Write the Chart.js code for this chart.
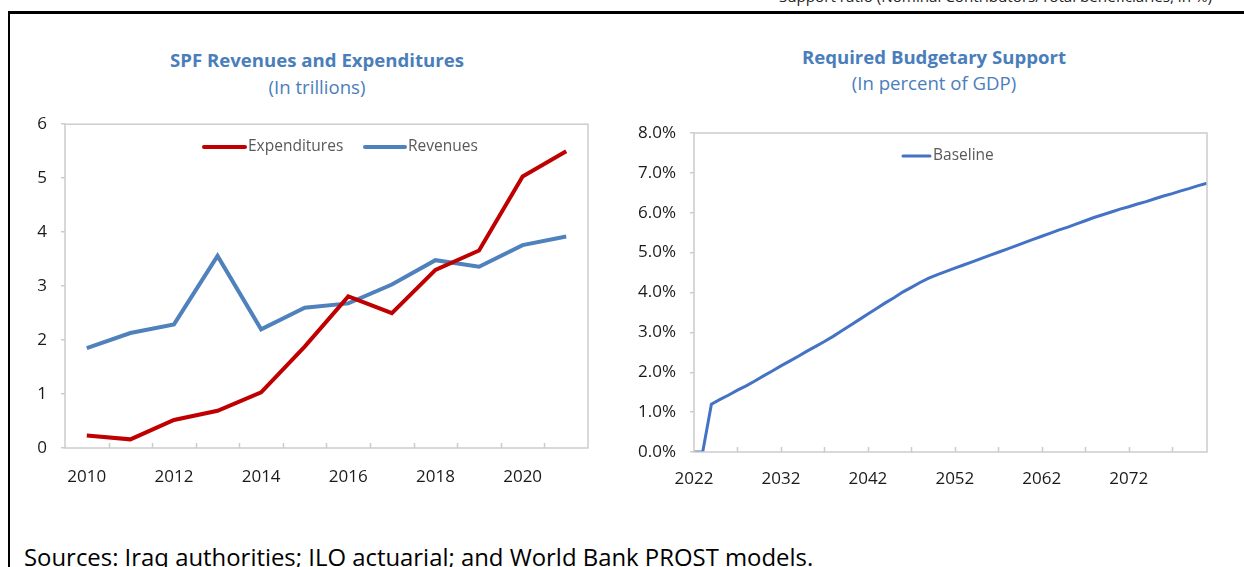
<!DOCTYPE html>
<html><head><meta charset="utf-8">
<script src="https://cdn.jsdelivr.net/npm/chart.js@4.4.1/dist/chart.umd.min.js"></script>
<style>
html,body{margin:0;padding:0;background:#fff;overflow:hidden;width:1244px;height:567px;position:relative;font-family:"Open Sans",sans-serif;}
#frame{position:absolute;left:8px;top:11px;width:1400px;height:800px;border-top:3px solid #000;border-left:2px solid #000;}
.t{position:absolute;white-space:nowrap;}
.title{color:#4A7EBB;font-weight:bold;font-size:18.6px;text-align:center;}
.sub{color:#4A7EBB;font-size:18.6px;text-align:center;}
canvas{position:absolute;}
</style></head><body>
<div id="frame"></div>
<div class="t" style="right:32px;top:-14px;font-size:15.2px;color:#222;">Support ratio (Nominal Contributors/Total beneficiaries, in %)</div>
<div class="t title" style="left:117px;width:400px;top:47px;">SPF Revenues and Expenditures</div>
<div class="t sub" style="left:117px;width:400px;top:74px;">(In trillions)</div>
<div class="t title" style="left:734px;width:400px;top:44px;">Required Budgetary Support</div>
<div class="t sub" style="left:734px;width:400px;top:70px;">(In percent of GDP)</div>
<div class="t" style="left:24px;top:540px;font-size:23.9px;color:#000;">Sources: Iraq authorities; ILO actuarial; and World Bank PROST models.</div>
<div style="position:absolute;left:0;top:100px;width:620px;height:400px;"><canvas id="c1"></canvas></div>
<div style="position:absolute;left:620px;top:100px;width:624px;height:400px;"><canvas id="c2"></canvas></div>
<script>
// ---- Data ----
const spfYears = ["2010","2011","2012","2013","2014","2015","2016","2017","2018","2019","2020","2021"];
const expenditures = [0.23,0.16,0.52,0.69,1.03,1.88,2.81,2.50,3.30,3.66,5.03,5.50];
const revenues = [1.85,2.13,2.29,3.56,2.20,2.60,2.68,3.03,3.48,3.36,3.76,3.92];
const spfYTicks = [0,1,2,3,4,5,6];

const supportYears = ["2022","2023","2024","2025","2026","2027","2028","2029","2030","2031",
 "2032","2033","2034","2035","2036","2037","2038","2039","2040","2041",
 "2042","2043","2044","2045","2046","2047","2048","2049","2050","2051",
 "2052","2053","2054","2055","2056","2057","2058","2059","2060","2061",
 "2062","2063","2064","2065","2066","2067","2068","2069","2070","2071",
 "2072","2073","2074","2075","2076","2077","2078","2079","2080","2081"];
const baseline = [0,0,1.20,1.32,1.43,1.55,1.66,1.78,1.91,2.03,
 2.16,2.28,2.40,2.53,2.65,2.77,2.90,3.04,3.18,3.32,
 3.46,3.60,3.74,3.87,4.01,4.13,4.25,4.36,4.45,4.53,
 4.61,4.69,4.77,4.85,4.93,5.01,5.09,5.17,5.25,5.33,
 5.41,5.49,5.57,5.64,5.72,5.80,5.88,5.95,6.02,6.09,
 6.15,6.22,6.28,6.35,6.42,6.48,6.55,6.61,6.68,6.74];
const supportYTicks = [0,1,2,3,4,5,6,7,8];

const FONT = "Open Sans";
const frameColor = "#cccccc";

// plugin: plot frame, inner x ticks, legend
const decor = {
  id: 'decor',
  afterDatasetsDraw(chart, args, opts) {
    const ctx = chart.ctx, a = chart.chartArea, x = chart.scales.x;
    ctx.save();
    ctx.strokeStyle = frameColor; ctx.lineWidth = 1.5;
    ctx.strokeRect(a.left, a.top, a.right - a.left, a.bottom - a.top);
    ctx.beginPath();
    opts.tickIdx.forEach(p => {
      const px = opts.between ? x.getPixelForValue(p) - (x.getPixelForValue(1) - x.getPixelForValue(0)) / 2 : x.getPixelForValue(p);
      ctx.moveTo(Math.round(px) + 0.5, a.bottom); ctx.lineTo(Math.round(px) + 0.5, a.bottom - 5);
    });
    ctx.stroke();
    ctx.font = "15.5px '" + FONT + "'";
    ctx.textBaseline = 'middle';
    chart.data.datasets.forEach((d, i) => {
      const it = opts.legend[i];
      ctx.strokeStyle = d.borderColor; ctx.lineWidth = d.borderWidth; ctx.lineCap = 'round';
      ctx.beginPath(); ctx.moveTo(it.x, it.y); ctx.lineTo(it.x + it.w, it.y); ctx.stroke();
      ctx.fillStyle = '#595959';
      ctx.fillText(d.label, it.x + it.w + 3, it.y);
    });
    ctx.restore();
  }
};

function yScale(ticks, fmt, width) {
  return {
    min: ticks[0], max: ticks[ticks.length - 1],
    afterBuildTicks: s => { s.ticks = ticks.map(v => ({value: v})); },
    afterFit: s => { s.width = width; },
    grid: {drawOnChartArea: false, drawTicks: true, tickLength: 4, color: frameColor, lineWidth: 1.5},
    border: {display: false},
    ticks: {padding: 14, color: '#1a1a1a', font: {family: FONT, size: 17}, callback: fmt}
  };
}

new Chart(document.getElementById('c1'), {
  type: 'line',
  data: {
    labels: spfYears,
    datasets: [
      {label: 'Expenditures', data: expenditures, borderColor: '#C00000', borderWidth: 4, pointRadius: 0, tension: 0},
      {label: 'Revenues', data: revenues, borderColor: '#4F81BD', borderWidth: 4, pointRadius: 0, tension: 0}
    ]
  },
  options: {
    responsive: true, maintainAspectRatio: false, animation: false,
    layout: {padding: {left: 0, top: 23, right: 32, bottom: 0}},
    plugins: {
      legend: {display: false}, tooltip: {enabled: false},
      decor: {between: true, tickIdx: [1,2,3,4,5,6,7,8,9,10,11],
        legend: [{x: 204, y: 47, w: 41}, {x: 365, y: 47, w: 40}]}
    },
    scales: {
      x: {
        offset: true,
        afterFit: s => { s.height = 52; },
        grid: {display: false},
        border: {display: false},
        ticks: {autoSkip: false, maxRotation: 0, padding: 11, color: '#1a1a1a', font: {family: FONT, size: 17},
          callback: function(v, i) { return i % 2 === 0 ? this.getLabelForValue(v) : ''; }}
      },
      y: yScale(spfYTicks, v => String(v), 65)
    }
  },
  plugins: [decor]
});

new Chart(document.getElementById('c2'), {
  type: 'line',
  data: {
    labels: supportYears,
    datasets: [
      {label: 'Baseline', data: baseline, borderColor: '#4472C4', borderWidth: 3, pointRadius: 0, tension: 0}
    ]
  },
  options: {
    responsive: true, maintainAspectRatio: false, animation: false,
    layout: {padding: {left: 0, top: 33, right: 37, bottom: 0}},
    plugins: {
      legend: {display: false}, tooltip: {enabled: false},
      decor: {between: false, tickIdx: [5,10,15,20,25,30,35,40,45,50,55],
        legend: [{x: 283, y: 56, w: 27}]}
    },
    scales: {
      x: {
        offset: false,
        afterFit: s => { s.height = 48; },
        grid: {display: false},
        border: {display: false},
        ticks: {autoSkip: false, maxRotation: 0, padding: 9, color: '#1a1a1a', font: {family: FONT, size: 17},
          callback: function(v, i) { return (i % 10 === 0 && i < 60) ? this.getLabelForValue(v) : ''; }}
      },
      y: yScale(supportYTicks, v => v.toFixed(1) + '%', 74)
    }
  },
  plugins: [decor]
});
</script>
</body></html>
